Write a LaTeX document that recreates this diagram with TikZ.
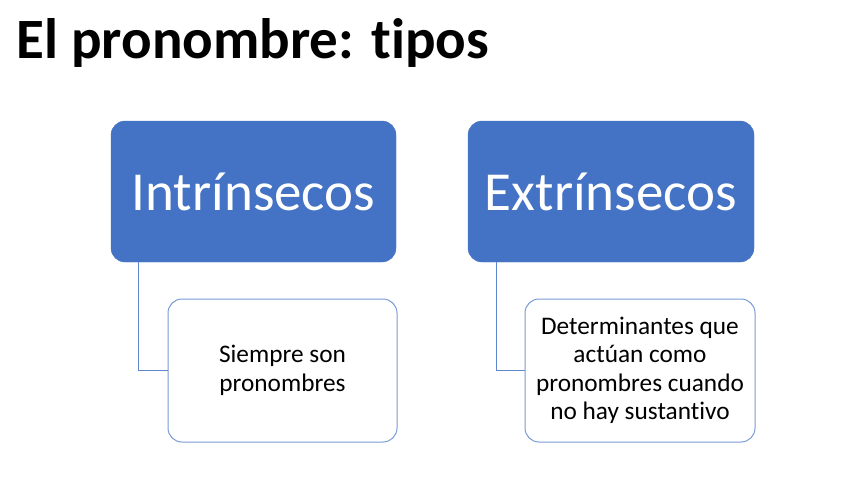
\documentclass[tikz,border=0pt]{standalone}
\usepackage{fontspec}
\setmainfont{Carlito}[Ligatures=NoCommon]
\definecolor{offblue}{RGB}{68,114,196}
\definecolor{lightedge}{RGB}{120,155,215}
\begin{document}
\begin{tikzpicture}[x=1pt,y=-1pt,
  bluebox/.style={rectangle, rounded corners=14pt, fill=offblue, draw=offblue, text=white,
    inner sep=0pt, font=\fontsize{55}{60}\selectfont},
  whitebox/.style={rectangle, rounded corners=14pt, fill=white, draw=lightedge, line width=1pt,
    inner sep=0pt, align=center, text=black, font=\fontsize{25.3}{28.5}\selectfont},
  link/.style={draw=offblue!85!white, line width=1pt}]
\useasboundingbox[fill=white] (0,0) rectangle (848,477);
\node[anchor=base west, font=\fontsize{57}{62}\selectfont\bfseries] (title) at (13,58) {El pronombre: tipos};
\node[bluebox, minimum width=285pt, minimum height=141pt] (lb) at (253.5,191.5) {Intrínsecos};
\node[bluebox, minimum width=286pt, minimum height=141pt] (rb) at (611,191.5) {Extrínsecos};
\node[whitebox, minimum width=229pt, minimum height=143pt] (lw) at (282.5,370.5) {Siempre son\\pronombres};
\node[whitebox, minimum width=230pt, minimum height=143pt] (rw) at (640,370.5) {Determinantes que\\actúan como\\pronombres cuando\\no hay sustantivo};
\draw[link] ([xshift=28pt]lb.south west) |- (lw.west);
\draw[link] ([xshift=29pt]rb.south west) |- (rw.west);
\end{tikzpicture}
\end{document}
